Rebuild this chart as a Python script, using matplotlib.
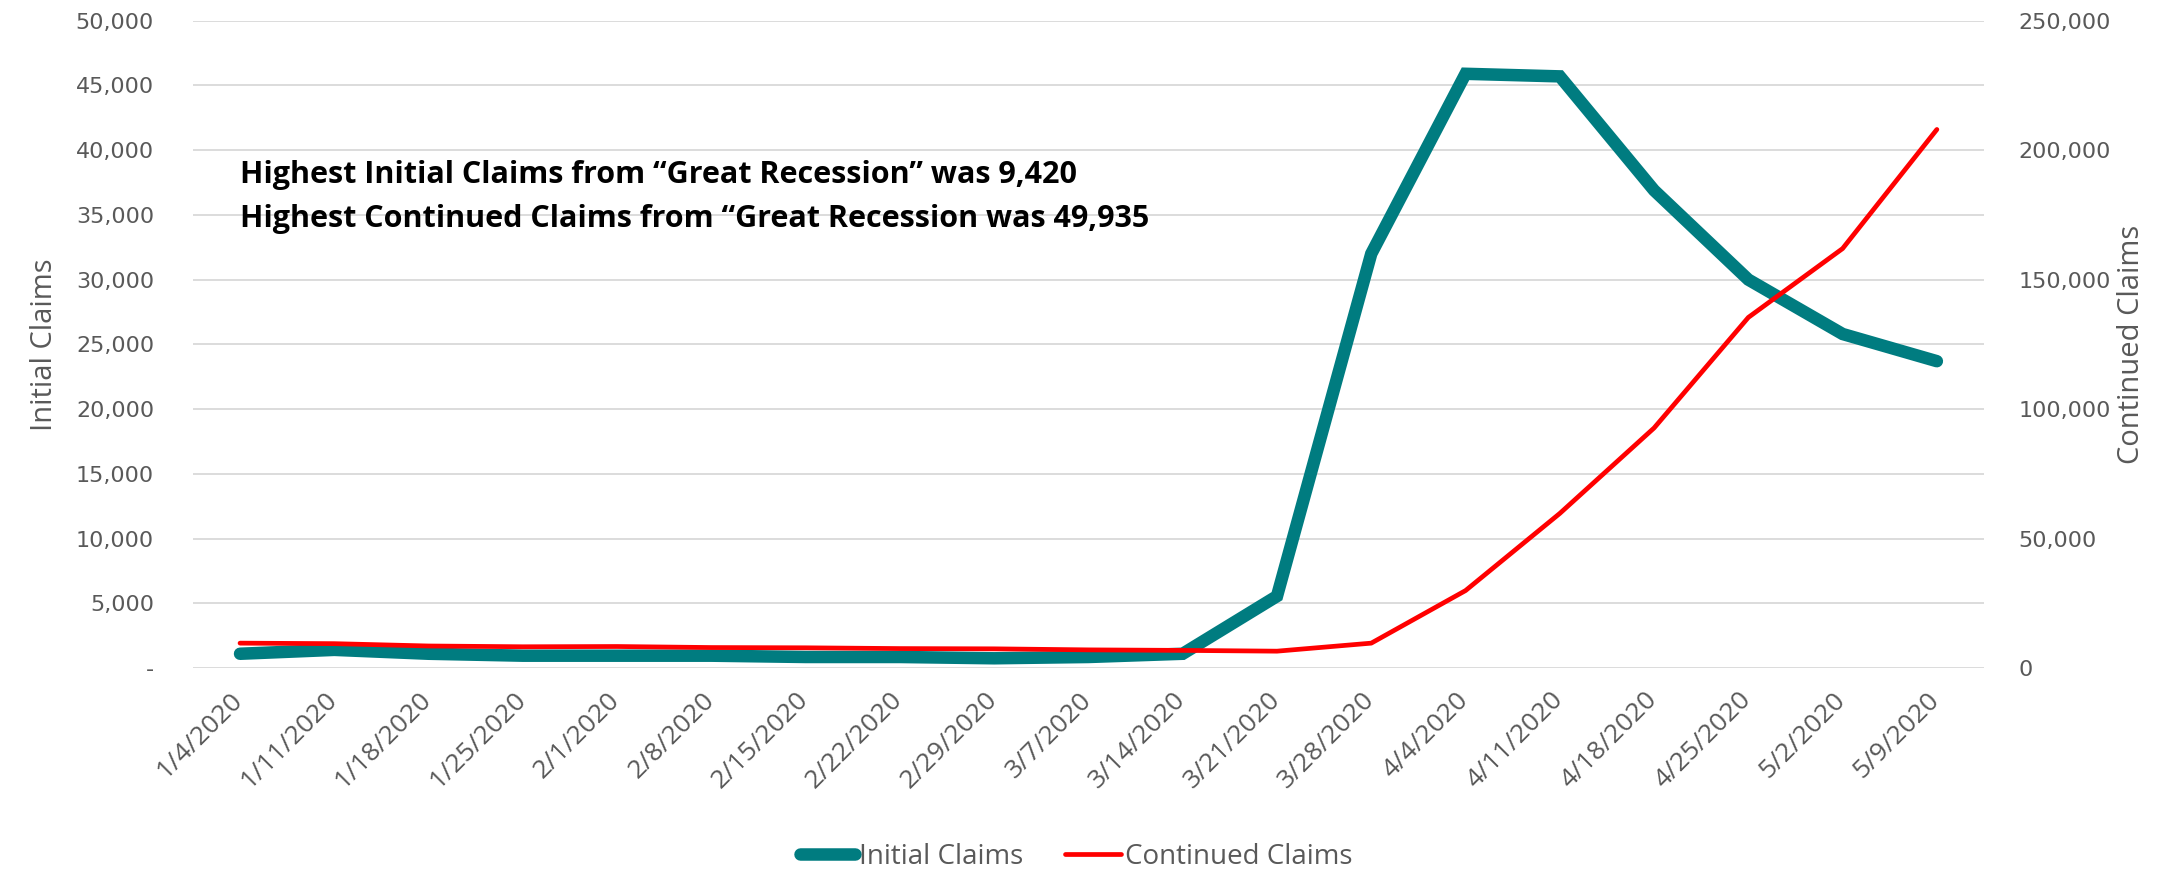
import matplotlib
matplotlib.use("Agg")
import matplotlib.pyplot as plt
import matplotlib.transforms as mtransforms
from matplotlib.ticker import FuncFormatter, MultipleLocator

plt.rcParams['font.family'] = ['Open Sans', 'DejaVu Sans']

weeks = ["1/4/2020", "1/11/2020", "1/18/2020", "1/25/2020", "2/1/2020", "2/8/2020",
         "2/15/2020", "2/22/2020", "2/29/2020", "3/7/2020", "3/14/2020", "3/21/2020",
         "3/28/2020", "4/4/2020", "4/11/2020", "4/18/2020", "4/25/2020", "5/2/2020",
         "5/9/2020"]
initial_claims = [1100, 1400, 1100, 950, 950, 950, 850, 850, 750, 850, 1100, 5550,
                  32000, 45900, 45700, 36900, 30000, 25800, 23700]
continued_claims = [9600, 9400, 8500, 8200, 8300, 7900, 7800, 7500, 7400, 7000, 6800,
                    6500, 9600, 29900, 59700, 92700, 135400, 162000, 208000]

note = ("Highest Initial Claims from \u201cGreat Recession\u201d was 9,420\n"
        "Highest Continued Claims from \u201cGreat Recession was 49,935")

teal = "#007C80"
red = "#FF0000"
grey = "#595959"
gridc = "#D9D9D9"

fig = plt.figure(figsize=(21.65, 8.74), dpi=100)
ax = fig.add_axes([0.0891, 0.2357, 0.8273, 0.7406])
ax2 = ax.twinx()

x = list(range(len(weeks)))
l1, = ax.plot(x, initial_claims, color=teal, lw=9, solid_capstyle="round",
              solid_joinstyle="miter", label="Initial Claims")
l2, = ax2.plot(x, continued_claims, color=red, lw=3.4, solid_capstyle="round",
               label="Continued Claims")

ax.set_xlim(-0.5, len(weeks) - 0.5)
ax.set_ylim(0, 50000)
ax2.set_ylim(0, 250000)
ax.yaxis.set_major_locator(MultipleLocator(5000))
ax2.yaxis.set_major_locator(MultipleLocator(50000))
ax.yaxis.set_major_formatter(FuncFormatter(lambda v, p: "-" if v == 0 else f"{v:,.0f}"))
ax2.yaxis.set_major_formatter(FuncFormatter(lambda v, p: f"{v:,.0f}"))

ax.grid(axis="y", color=gridc, lw=1.3)
ax.set_axisbelow(True)
for a in (ax, ax2):
    for s in a.spines.values():
        s.set_visible(False)
    a.tick_params(length=0)

ax.set_xticks(x)
ax.set_xticklabels(weeks, rotation=45, ha="right", rotation_mode="anchor",
                   fontsize=19, color=grey)
ax.tick_params(axis="x", pad=14)
shift = mtransforms.ScaledTranslation(-7 / 72, 0, fig.dpi_scale_trans)
for lab in ax.get_xticklabels():
    lab.set_transform(lab.get_transform() + shift)
for lab in ax.get_yticklabels() + ax2.get_yticklabels():
    lab.set_fontfamily("DejaVu Sans")
    lab.set_fontsize(16)
    lab.set_color(grey)
ax.tick_params(axis="y", pad=28)
ax2.tick_params(axis="y", pad=25)

ax.set_ylabel("Initial Claims", fontsize=21, color=grey, labelpad=12)
ax2.set_ylabel("Continued Claims", fontsize=21, color=grey, labelpad=4)

ax.text(0.0, 36400, note, fontsize=22, fontweight="bold",
        va="center", ha="left", linespacing=1.6)

fig.legend([l1, l2], ["Initial Claims", "Continued Claims"], loc="center",
           bbox_to_anchor=(0.497, 0.02), ncol=2, frameon=False, fontsize=20,
           labelcolor=grey, handlelength=2.0, handletextpad=0.15, columnspacing=1.5)

fig.savefig("out.png", dpi=100)
